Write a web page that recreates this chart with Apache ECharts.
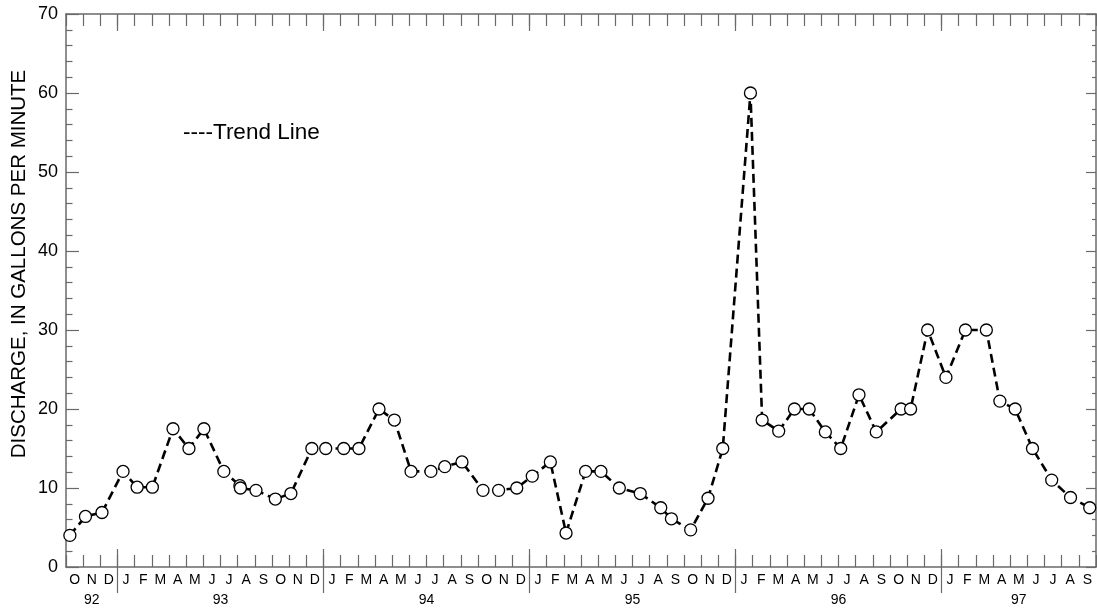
<!DOCTYPE html>
<html>
<head>
<meta charset="utf-8">
<script src="https://cdn.jsdelivr.net/npm/echarts@6/dist/echarts.min.js"></script>
<style>
html,body{margin:0;padding:0;background:#fff;}
#chart{width:1097px;height:608px;}
</style>
</head>
<body>
<div id="chart"></div>
<script>
// Sample dates and discharge values, gallons per minute
const sampleDates = [
  '1992-10-08','1992-11-05','1992-12-04',
  '1993-01-11','1993-02-05','1993-03-02','1993-04-08','1993-05-06','1993-06-02','1993-07-07','1993-08-05','1993-08-06','1993-09-03','1993-10-07','1993-11-04','1993-12-11',
  '1994-01-05','1994-02-06','1994-03-03','1994-04-08','1994-05-05','1994-06-04','1994-07-09','1994-08-03','1994-09-03','1994-10-10','1994-11-07','1994-12-09',
  '1995-01-06','1995-02-07','1995-03-05','1995-04-09','1995-05-06','1995-06-08','1995-07-15','1995-08-21','1995-09-09','1995-10-13','1995-11-13','1995-12-09',
  '1996-01-28','1996-02-17','1996-03-17','1996-04-14','1996-05-10','1996-06-08','1996-07-05','1996-08-07','1996-09-07','1996-10-21','1996-11-07','1996-12-07',
  '1997-01-09','1997-02-12','1997-03-20','1997-04-13','1997-05-10','1997-06-10','1997-07-14','1997-08-17','1997-09-20'
];
const discharge = [
  4.0, 6.4, 6.9,
  12.1, 10.1, 10.1, 17.5, 15.0, 17.5, 12.1, 10.3, 10.0, 9.7, 8.6, 9.3, 15.0,
  15.0, 15.0, 15.0, 20.0, 18.6, 12.1, 12.1, 12.7, 13.3, 9.7, 9.7, 10.0,
  11.5, 13.3, 4.3, 12.1, 12.1, 10.0, 9.3, 7.5, 6.1, 4.7, 8.7, 15.0,
  60.0, 18.6, 17.2, 20.0, 20.0, 17.1, 15.0, 21.8, 17.1, 20.0, 20.0, 30.0,
  24.0, 30.0, 30.0, 21.0, 20.0, 15.0, 11.0, 8.8, 7.5
];
const monthLetters = ['O','N','D',
  'J','F','M','A','M','J','J','A','S','O','N','D',
  'J','F','M','A','M','J','J','A','S','O','N','D',
  'J','F','M','A','M','J','J','A','S','O','N','D',
  'J','F','M','A','M','J','J','A','S','O','N','D',
  'J','F','M','A','M','J','J','A','S'];
const yearLabels = ['92','93','94','95','96','97'];
const yearLabelPos = [1.5, 9, 21, 33, 45, 55.5];   // centre of each year's span, in months from Oct 1992
const yearBoundaries = [3, 15, 27, 39, 51];          // January 1 of each year
const yTicks = { min: 0, max: 70, interval: 10 };
const yTitle = 'DISCHARGE, IN GALLONS PER MINUTE';
const legendText = '----Trend Line';

// convert a date to months elapsed since 1 Oct 1992
function monthsFromStart(s) {
  const [y, m, d] = s.split('-').map(Number);
  const dim = new Date(y, m, 0).getDate();
  return (y - 1992) * 12 + (m - 10) + (d - 1) / dim;
}
const seriesData = sampleDates.map((s, i) => [monthsFromStart(s), discharge[i]]);

const AX = '#6a6a6a';
const FONT = 'Liberation Sans, Arial, Helvetica, sans-serif';

const baseX = {
  type: 'value', min: 0, max: 60, splitLine: { show: false },
  axisLabel: { show: false }, axisLine: { show: false, onZero: false }
};

const chart = echarts.init(document.getElementById('chart'));
chart.setOption({
  animation: false,
  backgroundColor: '#fff',
  grid: { left: 66, right: 1, top: 14, bottom: 41, containLabel: false },
  xAxis: [
    // 0: bottom month ticks
    Object.assign({}, baseX, { position: 'bottom', interval: 1,
      axisLine: { show: true, onZero: false, lineStyle: { color: AX, width: 1.5 } },
      axisTick: { show: true, inside: true, length: 12, lineStyle: { color: AX, width: 1.2 } } }),
    // 1: bottom year boundary ticks (inside)
    Object.assign({}, baseX, { position: 'bottom',
      axisTick: { show: true, inside: true, length: 18, customValues: yearBoundaries, lineStyle: { color: AX, width: 1.2 } } }),
    // 2: bottom year boundary ticks (outside, through label area)
    Object.assign({}, baseX, { position: 'bottom',
      axisTick: { show: true, inside: false, length: 26, customValues: yearBoundaries, lineStyle: { color: AX, width: 1.2 } } }),
    // 3: month letters
    { type: 'category', position: 'bottom', data: monthLetters, boundaryGap: true,
      axisLine: { show: false, onZero: false }, axisTick: { show: false }, splitLine: { show: false },
      axisLabel: { show: true, interval: 0, margin: 6, fontSize: 14, color: '#000', fontFamily: FONT } },
    // 4: year labels
    Object.assign({}, baseX, { position: 'bottom', axisTick: { show: false },
      axisLabel: { show: true, customValues: yearLabelPos, margin: 26, fontSize: 14, color: '#000', fontFamily: FONT,
        formatter: function (v) { const i = yearLabelPos.indexOf(v); return i >= 0 ? yearLabels[i] : ''; } } }),
    // 5: top month ticks
    Object.assign({}, baseX, { position: 'top', interval: 1,
      axisLine: { show: true, onZero: false, lineStyle: { color: AX, width: 1.5 } },
      axisTick: { show: true, inside: true, length: 12, lineStyle: { color: AX, width: 1.2 } } }),
    // 6: top year ticks
    Object.assign({}, baseX, { position: 'top',
      axisTick: { show: true, inside: true, length: 17, customValues: yearBoundaries, lineStyle: { color: AX, width: 1.2 } } })
  ],
  yAxis: [
    { type: 'value', position: 'left', min: yTicks.min, max: yTicks.max, interval: yTicks.interval,
      splitLine: { show: false },
      axisLine: { show: true, onZero: false, lineStyle: { color: AX, width: 1.5 } },
      axisTick: { show: true, inside: true, length: 13, lineStyle: { color: AX, width: 1.2 } },
      minorTick: { show: true, splitNumber: 5, length: 6.5, lineStyle: { color: AX, width: 1.2 } },
      axisLabel: { show: true, margin: 8, fontSize: 18, color: '#000', fontFamily: FONT } },
    { type: 'value', position: 'right', min: yTicks.min, max: yTicks.max, interval: yTicks.interval,
      splitLine: { show: false },
      axisLine: { show: true, onZero: false, lineStyle: { color: AX, width: 1.5 } },
      axisTick: { show: true, inside: true, length: 10, lineStyle: { color: AX, width: 1.2 } },
      minorTick: { show: true, splitNumber: 5, length: 4, lineStyle: { color: AX, width: 1.2 } },
      axisLabel: { show: false } }
  ],
  graphic: [
    { type: 'text', x: 19, y: 264, rotation: Math.PI / 2,
      style: { text: yTitle, font: '20.5px ' + FONT, fill: '#000', textAlign: 'center', textVerticalAlign: 'middle' } },
    { type: 'text', x: 183, y: 133,
      style: { text: legendText, font: '22.5px ' + FONT, fill: '#000', textAlign: 'left', textVerticalAlign: 'middle' } }
  ],
  series: [{
    type: 'line', xAxisIndex: 0, yAxisIndex: 0, data: seriesData,
    symbol: 'circle', symbolSize: 12, showSymbol: true,
    lineStyle: { color: '#000', width: 2.6, type: [9, 5] },
    itemStyle: { color: '#fff', borderColor: '#000', borderWidth: 1.3 },
    z: 5
  }]
});
</script>
</body>
</html>
